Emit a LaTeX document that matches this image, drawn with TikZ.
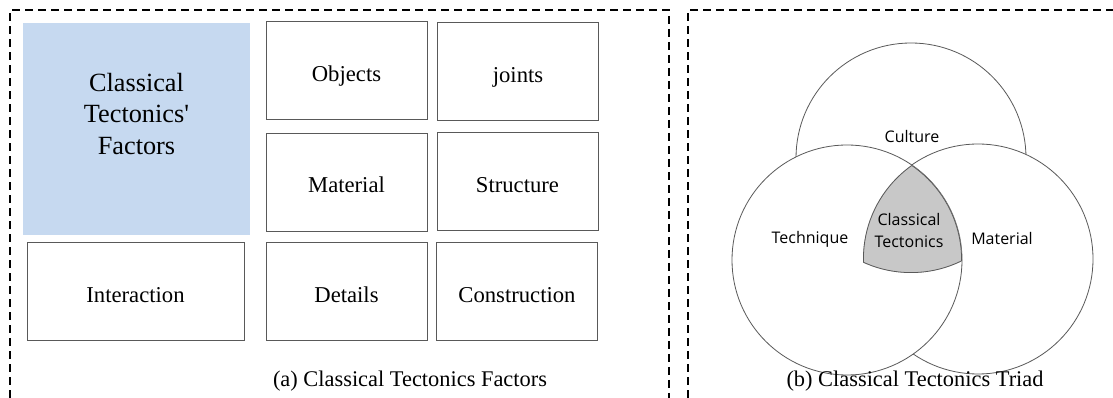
\documentclass[tikz,border=0pt]{standalone}
\usepackage{fontspec}
\setmainfont{Liberation Serif}
\newfontfamily\vennfont{Open Sans}
\usetikzlibrary{calc}

\definecolor{factorblue}{RGB}{198,217,240}
\definecolor{coregray}{RGB}{200,200,200}

\begin{document}
\begin{tikzpicture}[
  x=0.75pt, y=-0.75pt,
  font=\rmfamily\fontsize{17}{20}\selectfont,
  frame/.style={line width=1.1pt, dash pattern=on 6pt off 3.75pt},
  cell/.style={draw=black!65, line width=0.75pt, inner sep=0pt,
               text height=15.5pt, text depth=0pt,
               minimum width=120.75pt, minimum height=73.5pt},
  wide/.style={cell, minimum width=162.75pt},
  hl/.style={fill=factorblue, inner sep=0pt,
             minimum width=170.25pt, minimum height=159pt},
  ring/.style={draw=black!65, fill=white, line width=0.6pt},
  vlab/.style={font=\vennfont\fontsize{12}{16.5}\selectfont, align=center},
  captxt/.style={font=\rmfamily\fontsize{16.8}{20}\selectfont},
]
\useasboundingbox (0,0) rectangle (1113,398);

% ============ FRAMES ============
\draw[frame] (10,398) |- (669,10) -- (669,398);
\draw[frame] (688,398) |- (1113,10);

% ============ (a) FACTORS ============

% Highlighted box
\node[hl] (factors) at (136.5,129) {};
\node[align=center, font=\rmfamily\fontsize{19.7}{23.3}\selectfont]
  (factorstxt) at ($(factors.center)+(0,-15)$)
  {Classical\\Tectonics\textquotesingle\\Factors};

% Grid of factors
\node[cell] (objects)   at (346.5,71)  {Objects};
\node[cell] (joints)    at (518,72)    {joints};
\node[cell] (material)  at (346.5,182.5) {Material};
\node[cell] (structure) at (517.5,182) {Structure};

\node[wide] (interaction)  at (135.5,292) {Interaction};
\node[cell] (details)      at (346.5,292) {Details};
\node[cell] (construction) at (517,292)   {Construction};

\node[captxt] (capa) at (410,381) {(a) Classical Tectonics Factors};

% ============ (b) TRIAD ============
\coordinate (cul) at (911,158);
\coordinate (tec) at (847,260);
\coordinate (mat) at (978,259);

% stacked discs: culture, material, technique on top
\draw[ring] (cul) circle[radius=86.25pt];
\draw[ring] (mat) circle[radius=86.25pt];
\draw[ring] (tec) circle[radius=86.25pt];

% Shared core
\begin{scope}
  \clip (cul) circle[radius=86.25pt];
  \clip (tec) circle[radius=86.25pt];
  \clip (mat) circle[radius=86.25pt];
  \fill[coregray] (mat) circle[radius=86.25pt];
  \draw[black!65, line width=1.2pt] (cul) circle[radius=86.25pt]
    (tec) circle[radius=86.25pt] (mat) circle[radius=86.25pt];
\end{scope}

\node[vlab] (culture)   at (912,137) {Culture};
\node[vlab] (technique) at (810,239) {Technique};
\node[vlab] (mattxt)    at (1002,239) {Material};
\node[vlab] (core)      at (909,231) {Classical\\Tectonics};

\node[captxt] (capb) at (915,381) {(b) Classical Tectonics Triad};

\end{tikzpicture}
\end{document}
